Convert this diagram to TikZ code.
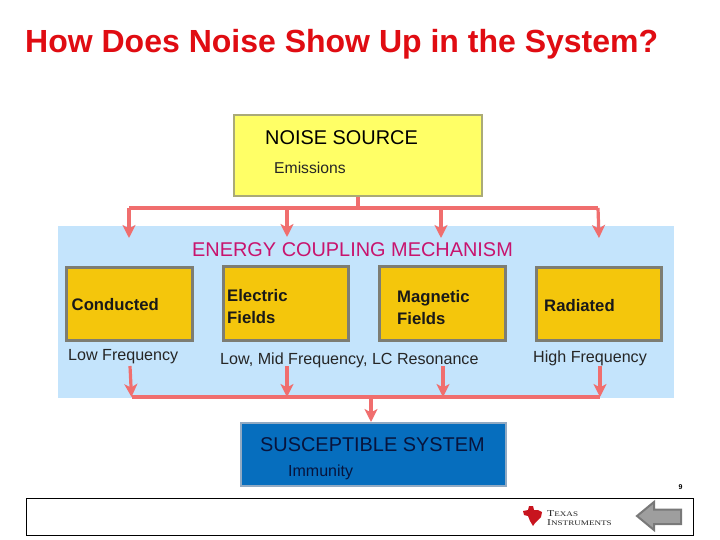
\documentclass[tikz,border=0pt]{standalone}
\usepackage{fontspec}
\usepackage{graphicx}
\setmainfont{Liberation Sans}
\newfontfamily\tifont{Liberation Serif}
\usetikzlibrary{arrows.meta}
\definecolor{titlered}{RGB}{224,12,18}
\definecolor{conn}{RGB}{240,110,110}
\definecolor{panel}{RGB}{196,228,252}
\definecolor{srcfill}{RGB}{255,255,102}
\definecolor{srcline}{RGB}{170,170,120}
\definecolor{gold}{RGB}{244,198,12}
\definecolor{goldline}{RGB}{125,125,115}
\definecolor{sysfill}{RGB}{6,110,190}
\definecolor{sysline}{RGB}{145,170,195}
\definecolor{systext}{RGB}{8,20,60}
\definecolor{magentatxt}{RGB}{200,20,110}
\definecolor{tired}{RGB}{200,20,30}
\tikzset{
  px/.style={x=1pt,y=-1pt},
  goldbox/.style={draw=goldline,line width=2.5pt,fill=gold,anchor=north west,inner sep=0pt},
  link/.style={draw=conn,line width=3.2pt},
  flow/.style={draw=conn,line width=3.2pt,-{Stealth[length=13pt,width=13pt,inset=3.5pt]}},
  lbl/.style={anchor=west,inner sep=0pt,font=\fontsize{16.1}{18}\selectfont,text=black!85},
  boxlbl/.style={anchor=west,inner sep=0pt,font=\fontsize{16.7}{22}\selectfont\bfseries,align=left,text=black!90},
}
\begin{document}
\begin{tikzpicture}[px]
\useasboundingbox (0,0) rectangle (720,540);
\fill[white] (0,0) rectangle (720,540);
\node[anchor=west,inner sep=0pt,text=titlered,font=\fontsize{32}{34}\selectfont\bfseries] (title) at (25,44.5) {How Does Noise Show Up in the System?};
\node[anchor=north west,inner sep=0pt,minimum width=615.5pt,minimum height=172pt,fill=panel] (panel) at (58,226) {};

\node[draw=srcline,line width=1.6pt,fill=srcfill,anchor=north west,minimum width=247.8pt,minimum height=81pt,inner sep=0pt] (source) at (233.3,114) {};
\node[anchor=west,inner sep=0pt,font=\fontsize{19.9}{21}\selectfont] (srct) at (265,138) {NOISE SOURCE};
\node[lbl,font=\fontsize{15.7}{17}\selectfont] (srcs) at (274,167.5) {Emissions};

\node[anchor=west,inner sep=0pt,text=magentatxt,font=\fontsize{19.9}{21}\selectfont] (ecm) at (192,250) {ENERGY COUPLING MECHANISM};

\node[goldbox,minimum width=126pt,minimum height=73pt] (cond) at (65.3,266) {};
\node[goldbox,minimum width=125pt,minimum height=74pt] (elec) at (222,265) {};
\node[goldbox,minimum width=126pt,minimum height=74pt] (magn) at (378,265) {};
\node[goldbox,minimum width=125pt,minimum height=73pt] (radi) at (535,266) {};

\node[boxlbl] (condt) at (71.5,305) {Conducted};
\node[boxlbl] (elect) at (227,307) {Electric\\Fields};
\node[boxlbl] (magnt) at (397,308) {Magnetic\\Fields};
\node[boxlbl] (radit) at (544,306) {Radiated};

\node[lbl] (lf) at (68,356.5) {Low Frequency};
\node[lbl] (lm) at (220,360) {Low, Mid Frequency, LC Resonance};
\node[lbl] (hf) at (533,358) {High Frequency};

\node[draw=sysline,line width=2pt,fill=sysfill,anchor=north west,minimum width=264.7pt,minimum height=62.4pt,inner sep=0pt] (sys) at (240,422.3) {};
\node[anchor=west,inner sep=0pt,font=\fontsize{19.9}{21}\selectfont,text=systext] (syst) at (260,445) {SUSCEPTIBLE SYSTEM};
\node[lbl,font=\fontsize{16}{18}\selectfont,text=systext] (syss) at (288,472) {Immunity};

% top bus
\coordinate (bl) at (129,208); \coordinate (br) at (598,208);
\coordinate (bm) at (358,208);
\coordinate (t1) at (129,238); \coordinate (t2) at (287,237);
\coordinate (t3) at (441,238); \coordinate (t4) at (599,238);
\draw[link] (source.south -| bm) -- (bm);
\draw[link,line join=round] (t1 |- bl) -- (br);
\draw[flow] (bl) -- (t1);
\draw[flow] (t2 |- bl) -- (t2);
\draw[flow] (t3 |- bl) -- (t3);
\draw[flow] (br) -- (t4);

% bottom bus
\coordinate (u1) at (130,366); \coordinate (u2) at (287,366);
\coordinate (u3) at (443,366); \coordinate (u4) at (600,366);
\coordinate (d1) at (131.5,397); \coordinate (d4) at (600,397);
\coordinate (m1) at (371,397); \coordinate (m2) at (371,422);
\draw[link] (d1) -- (d4);
\draw[flow] (u1) -- (d1);
\draw[flow] (u2) -- (u2 |- d1);
\draw[flow] (u3) -- (u3 |- d1);
\draw[flow] (u4) -- (d4);
\draw[flow] (m1) -- (m2);

% footer
\node[draw=black,line width=1pt,fill=white,anchor=north west,minimum width=667pt,minimum height=37pt,inner sep=0pt] (footer) at (26,498) {};
\node[anchor=center,inner sep=0pt,font=\fontsize{7}{8}\selectfont\bfseries] (pg) at (680.5,487) {9};
% logo
\fill[tired] (523,511) -- (528,510) -- (529,506) -- (533,506) -- (534,510) -- (538,510) -- (542,512) -- (541,517) -- (538,520) -- (535,523) -- (533,526) -- (530,521) -- (528,516) -- (524,515) -- cycle;
\node[anchor=west,inner sep=0pt,font=\tifont\fontsize{9}{9}\selectfont,text=black!85] (ti1) at (547,514) {\scalebox{1.3}[1]{T{\fontsize{7}{7}\selectfont EXAS}}};
\node[anchor=west,inner sep=0pt,font=\tifont\fontsize{9}{9}\selectfont,text=black!85] (ti2) at (547,523) {\scalebox{1.3}[1]{I{\fontsize{7}{7}\selectfont NSTRUMENTS}}};
% back arrow
\draw[draw=gray!95!black,line width=2pt,fill=black!38,line join=miter] (637,516) -- (654,502) -- (654,509.5) -- (681,509.5) -- (681,524) -- (654,524) -- (654,530) -- cycle;
\end{tikzpicture}
\end{document}
